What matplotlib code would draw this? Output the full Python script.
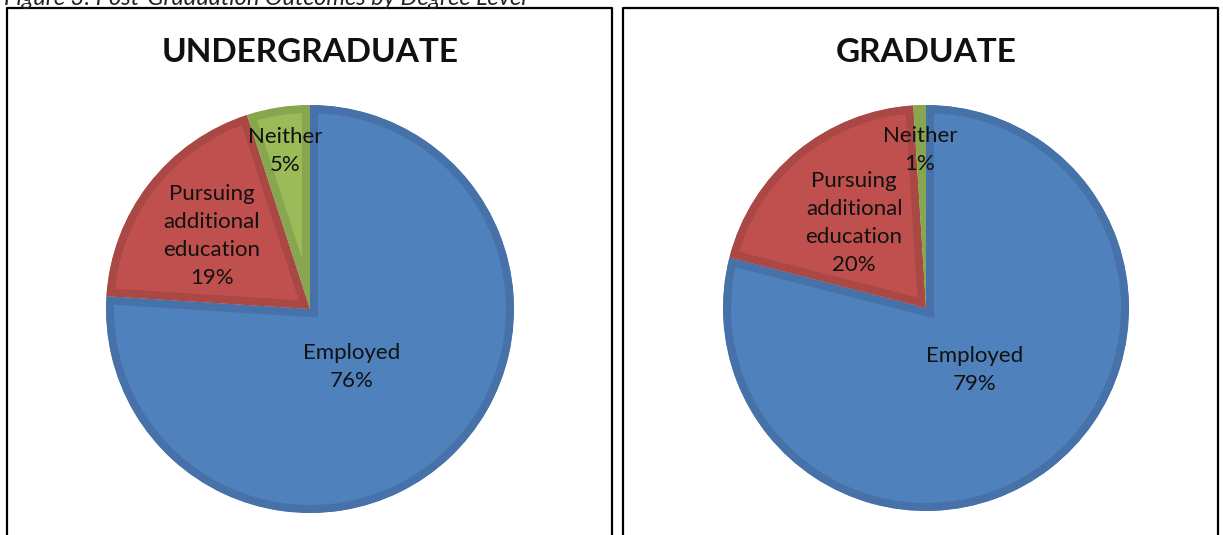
import matplotlib
matplotlib.use('Agg')
import matplotlib.pyplot as plt
from matplotlib.lines import Line2D

plt.rcParams['font.family'] = ['Lato', 'DejaVu Sans']

# data
categories = ['Employed', 'Pursuing\nadditional\neducation', 'Neither']
undergrad_vals = [76, 19, 5]
grad_vals = [79, 20, 1]
panel_titles = ['UNDERGRADUATE', 'GRADUATE']
caption = 'Figure 3: Post-Graduation Outcomes by Degree Level'

fills = ['#4F81BD', '#C0504D', '#9BBB59']
edges = ['#4672A9', '#A94845', '#88A64F']

W, H = 1223, 535
fig = plt.figure(figsize=(W / 100, H / 100), dpi=100)

def px_axes(cx, cy, r):
    return fig.add_axes([(cx - r) / W, 1 - (cy + r) / H, 2 * r / W, 2 * r / H])

def draw_pie(cx, cy, r, vals, title, label_px):
    ax = px_axes(cx, cy, r)
    wedges, _ = ax.pie(vals, colors=fills, startangle=90, counterclock=False,
                       radius=1, wedgeprops=dict(linewidth=0))
    ax.set_xlim(-1, 1)
    ax.set_ylim(-1, 1)
    for w, ec in zip(wedges, edges):
        w.set_edgecolor(ec)
        w.set_linewidth(16 * 72 / 100)   # only the inner half is kept
        w.set_clip_path(w)
        w.set_clip_on(True)
    ax.axis('off')
    for cat, v, (lx, ly) in zip(categories, vals, label_px):
        ax.text((lx - cx) / r, -(ly - cy) / r, f'{cat}\n{v}%', ha='center', va='center',
                fontsize=16, color='#111111', linespacing=1.5)
    fig.text(cx / W, 1 - 52 / H, title, ha='center', va='center',
             fontsize=24, fontweight='bold', color='#111111')

draw_pie(310, 309, 204, undergrad_vals, panel_titles[0],
         [(352, 367), (212, 236), (285, 151)])
draw_pie(926, 308, 203, grad_vals, panel_titles[1],
         [(975, 370), (854, 223), (920, 150)])

# panel borders (open at the bottom)
for x0, x1 in [(7, 612), (623, 1218)]:
    xs = [x0 / W, x0 / W, x1 / W, x1 / W]
    ys = [0, 1 - 8 / H, 1 - 8 / H, 0]
    fig.add_artist(Line2D(xs, ys, color='black', linewidth=1.6))

# caption sits mostly above the crop, as in the source page
fig.text(4 / W, 1 - 5 / H, caption, ha='left', va='baseline', fontsize=17,
         style='italic', color='#222222')

fig.savefig('out.png', dpi=100)
